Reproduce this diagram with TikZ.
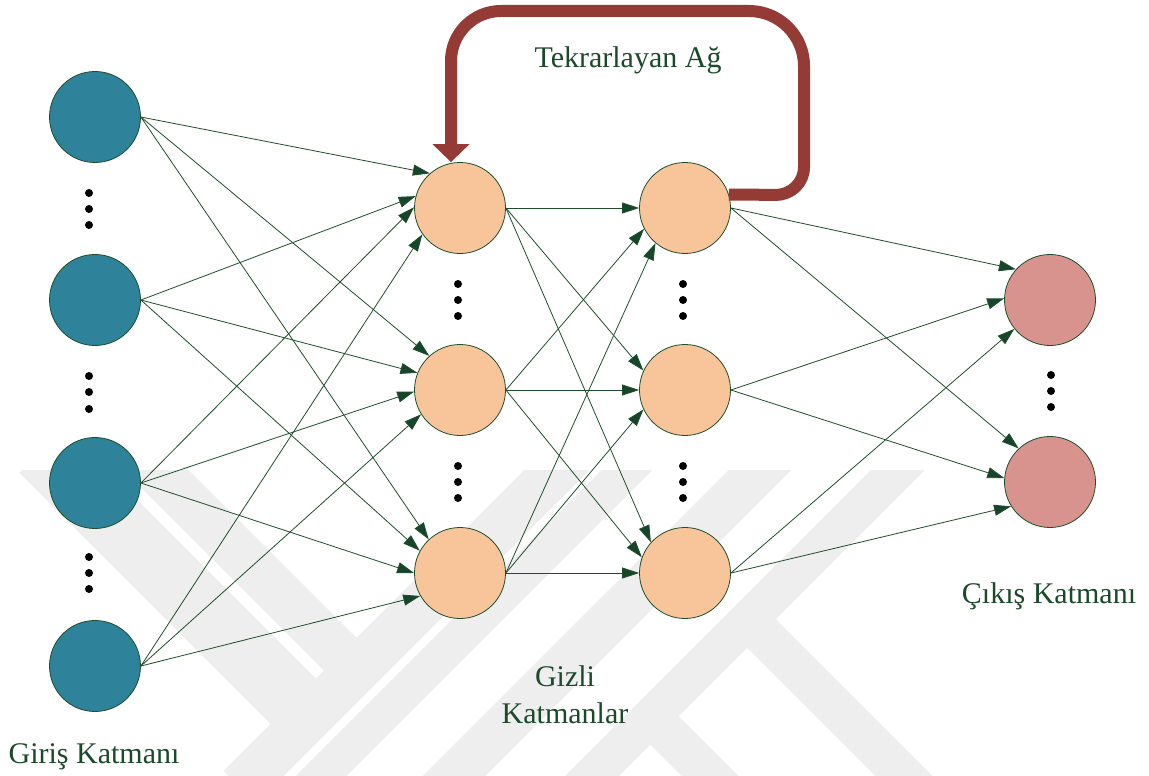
\documentclass[tikz,border=0pt]{standalone}
\usepackage{fontspec}
\setmainfont{Liberation Serif}
\usetikzlibrary{arrows.meta}
\definecolor{edgec}{HTML}{1F4E2C}
\definecolor{tipc}{HTML}{17452A}
\definecolor{txtc}{HTML}{1B4A2B}
\definecolor{inblue}{HTML}{2E8299}
\definecolor{hidorange}{HTML}{F8C59A}
\definecolor{outpink}{HTML}{D8938E}
\definecolor{recred}{HTML}{943B35}
\definecolor{wm}{HTML}{EEEEEE}
\begin{document}
\begin{tikzpicture}[x=1pt,y=-1pt,
  neuron/.style={circle,draw=edgec,line width=0.8pt,minimum size=91pt,inner sep=0pt},
  link/.style={draw=edgec,line width=0.8pt,-{Triangle[length=17pt,width=11pt,fill=tipc]}},
  dotmark/.style={circle,fill=black,inner sep=0pt,minimum size=8pt},
  lbl/.style={text=txtc,font=\fontsize{30pt}{36pt}\selectfont,anchor=base,inner sep=0pt},
  wmband/.style={draw=wm,line width=40pt,line cap=butt,line join=miter}
]
\useasboundingbox (0,0) rectangle (1149,776);
\fill[white] (0,0) rectangle (1149,776);
% faint watermark
\begin{scope}
\clip (0,470) rectangle (1149,776);
\draw[wmband,line width=64pt] (42,450) -- (306,714);
\draw[wmband,line width=46pt] (136,450) -- (350,664);
\draw[wmband,line width=46pt] (577,450) -- (240,787);
\draw[wmband,line width=36pt] (647,450) -- (300,797);
\draw[wmband,line width=44pt] (780,450) -- (433,797);
\draw[wmband,line width=38pt] (918,450) -- (571,797);
\draw[wmband] (740,612) -- (925,797);
\draw[wmband] (640,706) -- (731,797);
\end{scope}
% neurons
\node[neuron,fill=inblue] (i1) at (95,117) {};
\node[neuron,fill=inblue] (i2) at (95,300) {};
\node[neuron,fill=inblue] (i3) at (95,483) {};
\node[neuron,fill=inblue] (i4) at (95,666) {};
\node[neuron,fill=hidorange] (h1) at (460,208) {};
\node[neuron,fill=hidorange] (h2) at (460,390) {};
\node[neuron,fill=hidorange] (h3) at (460,573) {};
\node[neuron,fill=hidorange] (g1) at (685,208) {};
\node[neuron,fill=hidorange] (g2) at (685,390) {};
\node[neuron,fill=hidorange] (g3) at (685,573) {};
\node[neuron,fill=outpink] (o1) at (1050,300) {};
\node[neuron,fill=outpink] (o2) at (1050,482) {};
% input -> hidden 1
\draw[link] (i1.east) -- (h1.131);
\draw[link] (i2.east) -- (h1.165);
\draw[link] (i3.east) -- (h1.179);
\draw[link] (i4.east) -- (h1.215);
\draw[link] (i1.east) -- (h2.132);
\draw[link] (i2.east) -- (h2.158);
\draw[link] (i3.east) -- (h2.182);
\draw[link] (i4.east) -- (h2.212);
\draw[link] (i1.east) -- (h3.133);
\draw[link] (i2.east) -- (h3.151);
\draw[link] (i3.east) -- (h3.180);
\draw[link] (i4.east) -- (h3.210);
% hidden 1 -> hidden 2
\draw[link] (h1.east) -- (g1.180);
\draw[link] (h2.east) -- (g1.207);
\draw[link] (h3.east) -- (g1.230);
\draw[link] (h1.east) -- (g2.155);
\draw[link] (h2.east) -- (g2.180);
\draw[link] (h3.east) -- (g2.205);
\draw[link] (h1.east) -- (g3.138);
\draw[link] (h2.east) -- (g3.160);
\draw[link] (h3.east) -- (g3.180);
% hidden 2 -> output
\draw[link] (g1.east) -- (o1.138);
\draw[link] (g2.east) -- (o1.178);
\draw[link] (g3.east) -- (o1.219);
\draw[link] (g1.east) -- (o2.133);
\draw[link] (g2.east) -- (o2.175);
\draw[link] (g3.east) -- (o2.212);
% recurrent loop
\draw[recred,line width=12pt,line cap=butt,-{Triangle[length=18pt,width=36pt]}]
  (g1.17) [rounded corners=28pt] -- (804,195) [rounded corners=55pt] -- (804,11)
  [rounded corners=50pt] -- (451,11) -- ([xshift=-9pt]h1.north);
% dots
\foreach \k/\y in {a/193,b/209,c/225,d/376,e/392,f/409,g/557,h/573,i/589}
  \node[dotmark] (di\k) at (89,\y) {};
\foreach \k/\y in {a/284,b/300,c/316,d/466,e/482,f/498}
  \node[dotmark] (dh\k) at (458,\y) {};
\foreach \k/\y in {a/284,b/300,c/316,d/466,e/482,f/498}
  \node[dotmark] (dg\k) at (683,\y) {};
\foreach \k/\y in {a/375,b/391,c/407}
  \node[dotmark] (do\k) at (1051,\y) {};
% labels
\node[lbl] (t1) at (628,67) {Tekrarlayan Ağ};
\node[lbl] (t2) at (94,763) {Giriş Katmanı};
\node[lbl] (t3) at (565,686) {Gizli};
\node[lbl] (t4) at (565,723) {Katmanlar};
\node[lbl] (t5) at (1049,603) {Çıkış Katmanı};
\end{tikzpicture}
\end{document}
